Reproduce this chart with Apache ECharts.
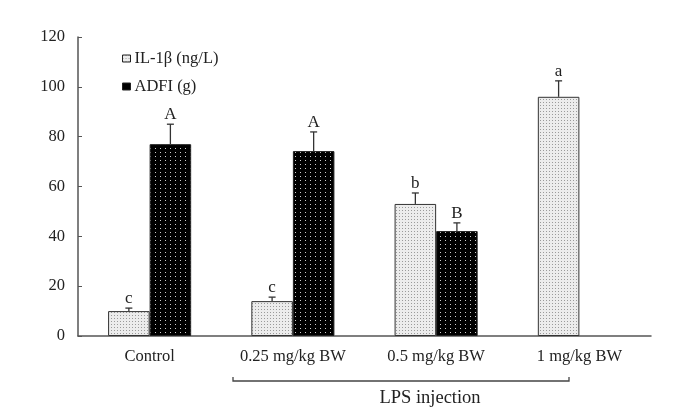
<!DOCTYPE html>
<html>
<head>
<meta charset="utf-8">
<script src="https://cdn.jsdelivr.net/npm/echarts@6/dist/echarts.min.js"></script>
<style>html,body{margin:0;padding:0;background:#fff;}#c{width:683px;height:412px;}</style>
</head>
<body>
<div id="c"></div>
<script>
var categories = ['Control', '0.25 mg/kg BW', '0.5 mg/kg BW', '1 mg/kg BW'];
var ilValues = [10, 14, 53, 96];
var ilErrors = [1.2, 1.6, 4.4, 6.4];
var ilLetters = ['c', 'c', 'b', 'a'];
var adfiValues = [77, 74.2, 42.1, null];
var adfiErrors = [8, 7.7, 3.3, null];
var adfiLetters = ['A', 'A', 'B', ''];
var yTicks = [0, 20, 40, 60, 80, 100, 120];

var FONT = '"Liberation Serif", "DejaVu Serif", serif';
var TXT = '#222';
var AX = '#555';
var BARW = 0.29;

function makePattern(bg, dot, sx, sy, ds) {
  var c = document.createElement('canvas');
  c.width = sx; c.height = sy;
  var g = c.getContext('2d');
  g.fillStyle = bg; g.fillRect(0, 0, sx, sy);
  g.fillStyle = dot; g.fillRect(0, 0, ds, ds);
  return { image: c, repeat: 'repeat' };
}
var ilPattern = makePattern('#ececec', '#9a9a9a', 3, 3, 1);
var adfiPattern = makePattern('#000000', '#cfcfcf', 5, 4, 1);

function errSeries(name, values, errors, letters, side) {
  var data = values.map(function (v, i) { return [i, v, errors[i]]; });
  return {
    type: 'custom',
    name: name + ' err',
    silent: true,
    z: 5,
    data: data,
    renderItem: function (params, api) {
      var v = api.value(1);
      if (v == null || isNaN(v)) return null;
      var i = api.value(0);
      var e = api.value(2);
      var band = api.size([1, 0])[0];
      var off = side * band * BARW / 2;
      var p0 = api.coord([i, v]);
      var p1 = api.coord([i, v + e]);
      var x = p0[0] + off;
      return {
        type: 'group',
        children: [
          { type: 'line', shape: { x1: x, y1: p0[1], x2: x, y2: p1[1] }, style: { stroke: '#333', lineWidth: 1.3 } },
          { type: 'line', shape: { x1: x - 3.5, y1: p1[1], x2: x + 3.5, y2: p1[1] }, style: { stroke: '#333', lineWidth: 1.3 } },
          { type: 'text', x: x, y: p1[1] - 1, style: { text: letters[i], fill: TXT, font: '17px ' + FONT, align: 'center', verticalAlign: 'bottom' } }
        ]
      };
    }
  };
}

var chart = echarts.init(document.getElementById('c'));
chart.setOption({
  animation: false,
  backgroundColor: '#fff',
  textStyle: { fontFamily: FONT, color: TXT },
  grid: { left: 78, right: 32, top: 37, bottom: 76 },
  legend: {
    orient: 'vertical',
    left: 117,
    top: 45,
    itemWidth: 8,
    itemHeight: 7,
    itemGap: 11,
    textStyle: { fontFamily: FONT, fontSize: 16.5, color: TXT, padding: [0, 0, 0, -1] },
    data: [
      { name: 'IL-1β (ng/L)', icon: 'rect', itemStyle: { color: ilPattern, borderColor: '#222', borderWidth: 1 } },
      { name: 'ADFI (g)', icon: 'rect', itemStyle: { color: '#000', borderColor: '#222', borderWidth: 1 } }
    ]
  },
  xAxis: {
    type: 'category',
    data: categories,
    axisLine: { lineStyle: { color: AX, width: 1.5 } },
    axisTick: { inside: true, length: 4, lineStyle: { color: AX } },
    axisLabel: { fontFamily: FONT, fontSize: 16.5, color: TXT, margin: 12 }
  },
  yAxis: {
    type: 'value',
    min: 0, max: 120, interval: 20,
    splitLine: { show: false },
    axisLine: { show: true, lineStyle: { color: AX, width: 1.5 } },
    axisTick: { show: true, inside: true, length: 4, lineStyle: { color: AX } },
    axisLabel: { fontFamily: FONT, fontSize: 16.5, color: TXT, margin: 13,
      formatter: function (v) { return yTicks.indexOf(v) >= 0 ? String(v) : ''; } }
  },
  series: [
    { type: 'bar', name: 'IL-1β (ng/L)', data: ilValues, barWidth: (BARW * 100) + '%', barGap: '0%',
      itemStyle: { color: ilPattern, borderColor: '#333', borderWidth: 1 } },
    { type: 'bar', name: 'ADFI (g)', data: adfiValues, barWidth: (BARW * 100) + '%', barGap: '0%',
      itemStyle: { color: adfiPattern, borderColor: '#222', borderWidth: 1 } },
    errSeries('IL', ilValues, ilErrors, ilLetters, -1),
    errSeries('ADFI', adfiValues, adfiErrors, adfiLetters, 1)
  ],
  graphic: [
    { type: 'polyline', shape: { points: [[233, 377], [233, 381], [569, 381], [569, 377]] }, style: { stroke: '#444', lineWidth: 1.3, fill: null } },
    { type: 'text', x: 430, y: 398, style: { text: 'LPS injection', fill: TXT, font: '18.5px ' + FONT, align: 'center', verticalAlign: 'middle' } }
  ]
});
</script>
</body>
</html>
